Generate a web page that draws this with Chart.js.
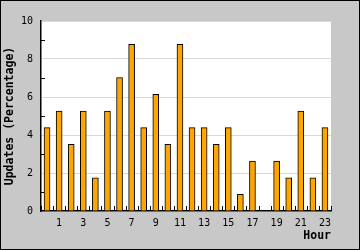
<!DOCTYPE html>
<html>
<head>
<meta charset="utf-8">
<script src="https://cdn.jsdelivr.net/npm/chart.js@4"></script>
<style>
  html, body { margin: 0; padding: 0; background: #c8c8c8; }
  #wrap { width: 360px; height: 250px; box-sizing: border-box; border: 1px solid #000; background: #c8c8c8; }
  canvas { display: block; }
</style>
</head>
<body>
<div id="wrap"><canvas id="chart" width="358" height="248"></canvas></div>
<script>
const hours = ['0','1','2','3','4','5','6','7','8','9','10','11','12','13','14','15','16','17','18','19','20','21','22','23'];
const updates = [4.39, 5.26, 3.51, 5.26, 1.75, 5.26, 7.02, 8.77, 4.39, 6.14, 3.51, 8.77,
                 4.39, 4.39, 3.51, 4.39, 0.88, 2.63, 0, 2.63, 1.75, 5.26, 1.75, 4.39];
const yMin = 0;
const yMax = 10;

const mono = '"DejaVu Sans Mono", monospace';

// white plot area
const plotBg = {
    id: 'plotBg',
    beforeDraw(chart) {
        const a = chart.chartArea;
        chart.ctx.save();
        chart.ctx.fillStyle = '#fff';
        chart.ctx.fillRect(a.left, a.top, a.right - a.left, a.bottom - a.top);
        chart.ctx.restore();
    }
};

// small inward ticks: hour boundaries on x, odd values on y
const minorTicks = {
    id: 'minorTicks',
    beforeDatasetsDraw(chart) {
        const c = chart.ctx;
        const x = chart.scales.x;
        const y = chart.scales.y;
        const area = chart.chartArea;
        c.save();
        c.strokeStyle = '#000';
        c.lineWidth = 1;
        c.beginPath();
        for (let i = 0; i <= hours.length; i++) {
            const px = Math.round(x.getPixelForValue(i - 0.5)) + 0.5;
            c.moveTo(px, area.bottom);
            c.lineTo(px, area.bottom - 5);
        }
        for (let v = yMin + 1; v < yMax; v += 2) {
            const py = Math.round(y.getPixelForValue(v)) + 0.5;
            c.moveTo(area.left, py);
            c.lineTo(area.left + 4, py);
        }
        c.stroke();
        c.restore();
    }
};

new Chart(document.getElementById('chart'), {
    type: 'bar',
    data: {
        labels: hours,
        datasets: [{
            data: updates,
            backgroundColor: '#ffa500',
            borderColor: '#000',
            borderWidth: 1,
            borderSkipped: 'bottom',
            barThickness: 6
        }]
    },
    options: {
        responsive: false,
        animation: false,
        layout: { padding: { top: 20, right: 28, left: 0, bottom: 0 } },
        plugins: {
            legend: { display: false },
            tooltip: { enabled: false }
        },
        scales: {
            x: {
                grid: { display: false, drawTicks: false, tickLength: 0 },
                border: { color: '#000', width: 1.5 },
                ticks: {
                    autoSkip: false,
                    maxRotation: 0,
                    padding: 6,
                    color: '#000',
                    font: { family: mono, size: 10 },
                    callback: (v, i) => (i % 2 === 1 ? hours[i] : '')
                },
                title: {
                    display: true,
                    text: 'Hour',
                    align: 'end',
                    color: '#000',
                    font: { family: mono, size: 11.5, weight: 'bold' },
                    padding: { top: 0, bottom: 6 }
                },
                afterFit: s => { s.height = 38; }
            },
            y: {
                min: yMin,
                max: yMax,
                grid: {
                    drawTicks: false,
                    color: c => (c.tick && c.tick.value % 2 === 0 ? '#d9d9d9' : 'rgba(0,0,0,0)')
                },
                border: { color: '#000', width: 1.5 },
                ticks: {
                    stepSize: 1,
                    padding: 8,
                    color: '#000',
                    font: { family: mono, size: 10 },
                    callback: v => (v % 2 === 0 ? v : '')
                },
                title: {
                    display: true,
                    text: 'Updates (Percentage)',
                    color: '#000',
                    font: { family: mono, size: 11.5, weight: 'bold' },
                    padding: { top: 2, bottom: 0 }
                },
                afterFit: s => { s.width = 40; }
            }
        }
    },
    plugins: [plotBg, minorTicks]
});
</script>
</body>
</html>
